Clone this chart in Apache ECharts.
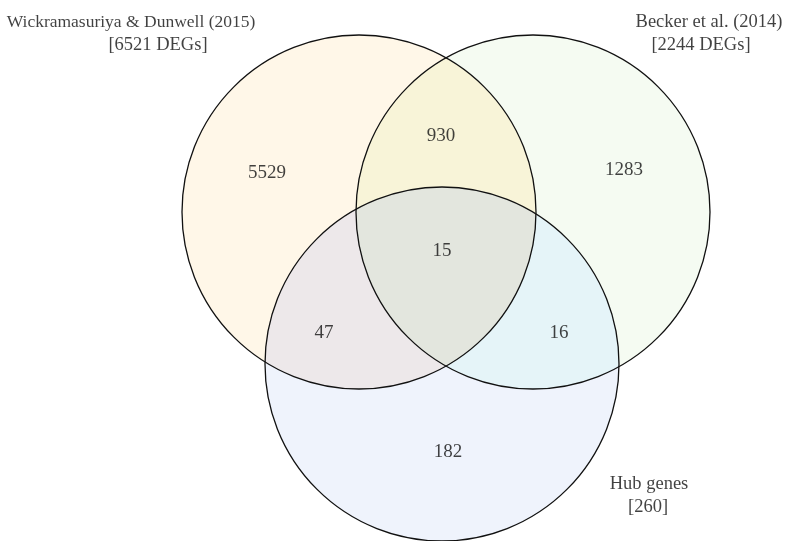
<!DOCTYPE html>
<html><head><meta charset="utf-8">
<script src="https://cdn.jsdelivr.net/npm/echarts@6/dist/echarts.min.js"></script>
<style>html,body{margin:0;padding:0;background:#fff}#c{width:793px;height:541px}</style>
</head><body><div id="c"></div>
<script>
// ---- data ----
const setNames = ['Wickramasuriya & Dunwell (2015)', 'Becker et al. (2014)', 'Hub genes'];
const setTotals = ['[6521 DEGs]', '[2244 DEGs]', '[260]'];
const regionKeys = ['A', 'B', 'C', 'AB', 'AC', 'BC', 'ABC'];
const regionCounts = [5529, 1283, 182, 930, 47, 16, 15];

// ---- layout (chart coordinate space) ----
const circleCenters = [[359, 212], [533, 212], [442, 364]];
const circleRadius = 177;
const regionLabelPos = [[267, 173], [624, 170], [448, 452], [441, 136], [324, 333], [559, 333], [442, 251]];
const setLabelPos = [[131, 22], [709, 22], [649, 484]];
const setTotalPos = [[158, 45], [701, 45], [648, 507]];
const setLabelSize = [17.5, 18.5, 18.5];

// ---- styles ----
const regionFill = {A: '#fff7e8', B: '#f5fbf2', C: '#eff3fc', AB: '#f8f4d8', AC: '#ede8ea', BC: '#e5f4f8', ABC: '#e3e6de'};
const textColor = '#111111';
const FONT = 'Liberation Serif';

function circlePoly(cx, cy, r, n) {
  const pts = [];
  for (let i = 0; i < n; i++) {
    const t = 2 * Math.PI * i / n;
    pts.push([cx + r * Math.cos(t), cy + r * Math.sin(t)]);
  }
  return pts;
}
function clip(subject, clipPoly) {
  let out = subject;
  const cross = (a, b, p) => (b[0] - a[0]) * (p[1] - a[1]) - (b[1] - a[1]) * (p[0] - a[0]);
  const inter = (a, b, p, q) => {
    const a1 = b[1] - a[1], b1 = a[0] - b[0], c1 = a1 * a[0] + b1 * a[1];
    const a2 = q[1] - p[1], b2 = p[0] - q[0], c2 = a2 * p[0] + b2 * p[1];
    const d = a1 * b2 - a2 * b1;
    return [(b2 * c1 - b1 * c2) / d, (a1 * c2 - a2 * c1) / d];
  };
  for (let i = 0; i < clipPoly.length; i++) {
    const a = clipPoly[i], b = clipPoly[(i + 1) % clipPoly.length];
    const inp = out; out = [];
    if (!inp.length) break;
    for (let j = 0; j < inp.length; j++) {
      const p = inp[j], q = inp[(j + 1) % inp.length];
      const pin = cross(a, b, p) >= 0, qin = cross(a, b, q) >= 0;
      if (pin) { out.push(p); if (!qin) out.push(inter(a, b, p, q)); }
      else if (qin) out.push(inter(a, b, p, q));
    }
  }
  return out;
}

const chart = echarts.init(document.getElementById('c'), null, {renderer: 'canvas'});
const mkLabel = fs => ({show: true, position: 'inside', color: textColor, fontFamily: FONT, fontSize: fs,
  textBorderWidth: 0, formatter: p => p.name});

chart.setOption({
  backgroundColor: '#ffffff',
  animation: false,
  grid: {left: 0, right: 0, top: 0, bottom: 0},
  xAxis: {type: 'value', min: 0, max: 793, show: false},
  yAxis: {type: 'value', min: 0, max: 541, inverse: true, show: false},
  series: [
    {
      type: 'custom',
      coordinateSystem: 'cartesian2d',
      z: 1,
      data: [[0, 0]],
      renderItem: function (params, api) {
        const C = circleCenters.map(c => api.coord(c));
        const r = api.size([circleRadius, circleRadius])[0];
        const P = C.map(c => circlePoly(c[0], c[1], r, 720));
        const children = [];
        const poly = (pts, fill) => children.push({type: 'polygon', shape: {points: pts}, style: {fill: fill, stroke: null}});
        poly(P[0], regionFill.A);
        poly(P[1], regionFill.B);
        poly(P[2], regionFill.C);
        poly(clip(P[0], P[1]), regionFill.AB);
        poly(clip(P[0], P[2]), regionFill.AC);
        poly(clip(P[1], P[2]), regionFill.BC);
        poly(clip(clip(P[0], P[1]), P[2]), regionFill.ABC);
        C.forEach(c => children.push({type: 'circle', shape: {cx: c[0], cy: c[1], r: r}, style: {fill: null, stroke: '#111', lineWidth: 1.3}}));
        return {type: 'group', children: children};
      }
    },
    {
      type: 'scatter', z: 5, symbolSize: 0, silent: true,
      data: regionKeys.map((k, i) => ({value: regionLabelPos[i], name: String(regionCounts[i])})),
      label: mkLabel(19)
    },
    {
      type: 'scatter', z: 5, symbolSize: 0, silent: true,
      data: setNames.map((n, i) => ({value: setLabelPos[i], name: n, label: {fontSize: setLabelSize[i]}})),
      label: mkLabel(18.5)
    },
    {
      type: 'scatter', z: 5, symbolSize: 0, silent: true,
      data: setTotals.map((n, i) => ({value: setTotalPos[i], name: n})),
      label: mkLabel(18.5)
    }
  ]
});
</script></body></html>
